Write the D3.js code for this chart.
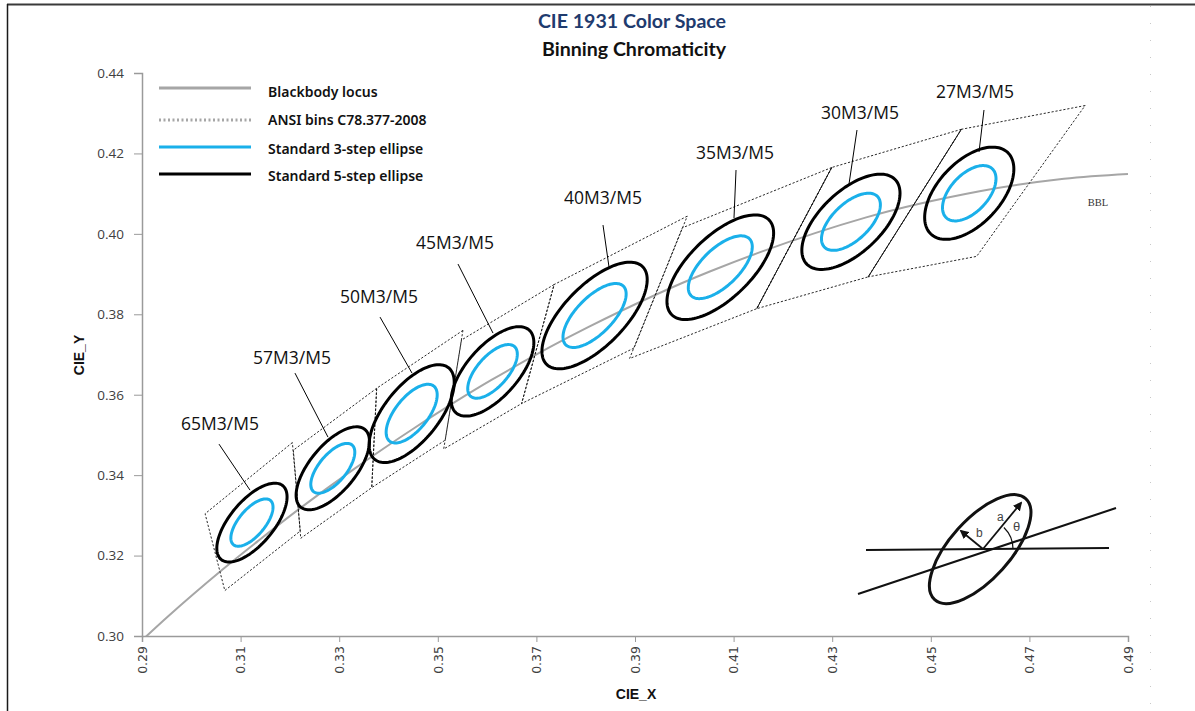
<!DOCTYPE html>
<html>
<head>
<meta charset="utf-8">
<script src="https://cdn.jsdelivr.net/npm/d3@7"></script>
<style>
  html, body { margin: 0; padding: 0; background: #fff; }
  svg { display: block; }
</style>
</head>
<body>
<svg id="chart" width="1195" height="711"></svg>
<script>
// ---------------- DATA ----------------
const xTicks = [0.29, 0.31, 0.33, 0.35, 0.37, 0.39, 0.41, 0.43, 0.45, 0.47, 0.49];
const yTicks = [0.30, 0.32, 0.34, 0.36, 0.38, 0.40, 0.42, 0.44];

// Blackbody (Planckian) locus points
const bblX = [0.2867, 0.2952, 0.3064, 0.3135, 0.3221, 0.3324, 0.3451, 0.3608, 0.3805, 0.4053, 0.4369, 0.4599, 0.4770, 0.4900];
const bblY = [0.2951, 0.3048, 0.3166, 0.3236, 0.3318, 0.3410, 0.3516, 0.3636, 0.3768, 0.3907, 0.4041, 0.4106, 0.4137, 0.4149];

// Bins (ANSI C78.377-2008)
const binNames = ["65M3/M5", "57M3/M5", "50M3/M5", "45M3/M5", "40M3/M5", "35M3/M5", "30M3/M5", "27M3/M5"];
const quadX = [
  [0.3205, 0.3028, 0.3068, 0.3221],
  [0.3376, 0.3207, 0.3222, 0.3366],
  [0.3551, 0.3376, 0.3366, 0.3515],
  [0.3736, 0.3548, 0.3512, 0.3670],
  [0.4006, 0.3736, 0.3670, 0.3898],
  [0.4299, 0.3996, 0.3889, 0.4147],
  [0.4562, 0.4299, 0.4147, 0.4373],
  [0.4813, 0.4562, 0.4373, 0.4593]
];
const quadY = [
  [0.3481, 0.3304, 0.3113, 0.3261],
  [0.3616, 0.3462, 0.3243, 0.3369],
  [0.3760, 0.3616, 0.3369, 0.3487],
  [0.3874, 0.3736, 0.3465, 0.3578],
  [0.4044, 0.3874, 0.3578, 0.3716],
  [0.4165, 0.4015, 0.3690, 0.3814],
  [0.4260, 0.4165, 0.3814, 0.3893],
  [0.4319, 0.4260, 0.3893, 0.3944]
];
// shared edges drawn solid (3500/3000 and 3000/2700)
const solidEdgeX = [[0.4299, 0.4147], [0.4562, 0.4373]];
const solidEdgeY = [[0.4165, 0.3814], [0.4260, 0.3893]];

// Ellipse parameters (1-step): centre, semi-axes, angle (deg)
const ellX = [0.3123, 0.3287, 0.3447, 0.3611, 0.3818, 0.4073, 0.4338, 0.4578];
const ellY = [0.3282, 0.3417, 0.3553, 0.3658, 0.3797, 0.3917, 0.4030, 0.4101];
const ellA = [0.00223, 0.00234, 0.00274, 0.00255, 0.00313, 0.00309, 0.00278, 0.00258];
const ellB = [0.00095, 0.00100, 0.00118, 0.00112, 0.00134, 0.00138, 0.00136, 0.00137];
const ellT = [58.23, 58.6, 59.37, 57.0, 54.00, 52.93, 53.13, 57.28];
const steps = [3, 5];

// Label positions and leader lines (data coordinates)
const labelX = [0.30582, 0.32043, 0.33807, 0.35349, 0.38351, 0.41028, 0.43564, 0.45897];
const labelY = [0.35269, 0.36910, 0.38428, 0.39771, 0.40891, 0.42010, 0.43005, 0.43527];
const leadX0 = [0.30562, 0.32103, 0.33828, 0.35410, 0.38351, 0.41049, 0.43503, 0.46079];
const leadY0 = [0.34771, 0.36537, 0.37930, 0.39249, 0.40219, 0.41587, 0.42582, 0.43080];
const leadX1 = [0.31191, 0.32773, 0.34477, 0.36120, 0.38473, 0.41008, 0.43341, 0.45978];
const leadY1 = [0.33627, 0.34945, 0.36537, 0.37532, 0.39174, 0.40393, 0.41239, 0.42035];

const legendLabels = ["Blackbody locus", "ANSI bins C78.377-2008", "Standard 3-step ellipse", "Standard 5-step ellipse"];

// ---------------- LAYOUT ----------------
const svg = d3.select("#chart");
const W = 1195, H = 711;
const M = { left: 142, right: 1128, top: 73, bottom: 636 };
const x = d3.scaleLinear().domain([0.29, 0.49]).range([M.left, M.right]);
const y = d3.scaleLinear().domain([0.30, 0.44]).range([M.bottom, M.top]);

// frame
svg.append("line").attr("x1", 7).attr("x2", W).attr("y1", 4.5).attr("y2", 4.5)
  .attr("stroke", "#3a3a3a").attr("stroke-width", 2);
svg.append("line").attr("x1", 7.5).attr("x2", 7.5).attr("y1", 4).attr("y2", H)
  .attr("stroke", "#1a1a1a").attr("stroke-width", 1.5);
svg.append("line").attr("x1", 1150.5).attr("x2", 1150.5).attr("y1", 6).attr("y2", H)
  .attr("stroke", "#c8c8c8").attr("stroke-width", 1).attr("stroke-dasharray", "1,16");

// titles
svg.append("text").attr("x", 632).attr("y", 28).attr("text-anchor", "middle")
  .attr("font-family", "Lato, 'Open Sans', sans-serif").attr("font-weight", "bold")
  .attr("font-size", 19.6).attr("fill", "#1f3b6e").text("CIE 1931 Color Space");
svg.append("text").attr("x", 634).attr("y", 56).attr("text-anchor", "middle")
  .attr("font-family", "Lato, 'Open Sans', sans-serif").attr("font-weight", "bold")
  .attr("font-size", 19.6).attr("fill", "#111").text("Binning Chromaticity");

// clip
svg.append("clipPath").attr("id", "plotclip").append("rect")
  .attr("x", M.left).attr("y", M.top).attr("width", M.right - M.left).attr("height", M.bottom - M.top);

// axes
const axisColor = "#9a9a9a";
const gx = svg.append("g").attr("transform", `translate(0,${M.bottom})`)
  .call(d3.axisBottom(x).tickValues(xTicks).tickSize(6).tickFormat(d3.format(".2f")));
gx.select(".domain").attr("stroke", axisColor).attr("stroke-width", 1.5);
gx.selectAll(".tick line").attr("stroke", axisColor);
gx.selectAll(".tick text")
  .attr("transform", "rotate(-90)")
  .attr("text-anchor", "end")
  .attr("x", -10).attr("y", 0).attr("dy", "0.35em")
  .attr("font-family", "'DejaVu Sans', Verdana, sans-serif")
  .attr("font-size", 12.5).attr("fill", "#404040");

const gy = svg.append("g").attr("transform", `translate(${M.left},0)`)
  .call(d3.axisLeft(y).tickValues(yTicks).tickSize(8).tickFormat(d3.format(".2f")));
gy.select(".domain").attr("stroke", axisColor).attr("stroke-width", 1.5);
gy.selectAll(".tick line").attr("stroke", axisColor);
gy.selectAll(".tick text")
  .attr("x", -18)
  .attr("font-family", "'Open Sans', 'Noto Sans', sans-serif")
  .attr("font-size", 13.5).attr("fill", "#404040");

// axis titles
svg.append("text").attr("x", 636).attr("y", 699).attr("text-anchor", "middle")
  .attr("font-family", "'Liberation Sans Narrow', 'Liberation Sans', Arial, sans-serif")
  .attr("font-weight", "bold").attr("font-size", 14).attr("fill", "#111").text("CIE_X");
svg.append("text").attr("transform", "translate(84,355) rotate(-90)").attr("text-anchor", "middle")
  .attr("font-family", "'Liberation Sans Narrow', 'Liberation Sans', Arial, sans-serif")
  .attr("font-weight", "bold").attr("font-size", 14).attr("fill", "#111").text("CIE_Y");

const plot = svg.append("g").attr("clip-path", "url(#plotclip)");

// blackbody locus
const bbl = bblX.map((v, i) => [v, bblY[i]]);
plot.append("path")
  .attr("d", d3.line().x(d => x(d[0])).y(d => y(d[1])).curve(d3.curveCatmullRom)(bbl))
  .attr("fill", "none").attr("stroke", "#a6a6a6").attr("stroke-width", 2);

svg.append("text").attr("x", 1098).attr("y", 206).attr("text-anchor", "middle")
  .attr("font-family", "'Liberation Serif', 'DejaVu Serif', serif")
  .attr("font-size", 10.5).attr("fill", "#333").text("BBL");

// ANSI quadrangles
const quadG = svg.append("g");
quadX.forEach((qx, i) => {
  const pts = qx.map((v, j) => [x(v), y(quadY[i][j])]);
  quadG.append("path")
    .attr("d", d3.line().curve(d3.curveLinearClosed)(pts))
    .attr("fill", "none").attr("stroke", "#111").attr("stroke-width", 0.9)
    .attr("stroke-dasharray", "2.2,1.8");
});
solidEdgeX.forEach((ex, i) => {
  quadG.append("line")
    .attr("x1", x(ex[0])).attr("y1", y(solidEdgeY[i][0]))
    .attr("x2", x(ex[1])).attr("y2", y(solidEdgeY[i][1]))
    .attr("stroke", "#111").attr("stroke-width", 0.9);
});

// ellipses
function ellipsePts(cx, cy, a, b, tDeg) {
  const t = tDeg * Math.PI / 180;
  return d3.range(0, 120).map(k => {
    const u = k / 120 * 2 * Math.PI;
    return [
      x(cx + a * Math.cos(t) * Math.cos(u) - b * Math.sin(t) * Math.sin(u)),
      y(cy + a * Math.sin(t) * Math.cos(u) + b * Math.cos(t) * Math.sin(u))
    ];
  });
}
const ellG = svg.append("g");
ellX.forEach((cx, i) => {
  ellG.append("path")
    .attr("d", d3.line().curve(d3.curveLinearClosed)(ellipsePts(cx, ellY[i], ellA[i] * steps[1], ellB[i] * steps[1], ellT[i])))
    .attr("fill", "none").attr("stroke", "#000").attr("stroke-width", 3);
  ellG.append("path")
    .attr("d", d3.line().curve(d3.curveLinearClosed)(ellipsePts(cx, ellY[i], ellA[i] * steps[0], ellB[i] * steps[0], ellT[i])))
    .attr("fill", "none").attr("stroke", "#1ab0ea").attr("stroke-width", 3);
});

// labels & leaders
binNames.forEach((name, i) => {
  svg.append("line")
    .attr("x1", x(leadX0[i])).attr("y1", y(leadY0[i]))
    .attr("x2", x(leadX1[i])).attr("y2", y(leadY1[i]))
    .attr("stroke", "#000").attr("stroke-width", 1);
  svg.append("text").attr("x", x(labelX[i])).attr("y", y(labelY[i]))
    .attr("text-anchor", "middle").attr("dy", "0.36em")
    .attr("font-family", "'Open Sans', 'Noto Sans', sans-serif")
    .attr("font-size", 17.5).attr("fill", "#111").text(name);
});

// legend
const legLineY = [88, 120, 147, 174];
const legTextY = [92, 120, 149, 176];
const legStyles = [
  { stroke: "#a6a6a6", dash: null },
  { stroke: "#a6a6a6", dash: "2,2.5" },
  { stroke: "#1ab0ea", dash: null },
  { stroke: "#000", dash: null }
];
legendLabels.forEach((lab, i) => {
  svg.append("line").attr("x1", 159).attr("x2", 251).attr("y1", legLineY[i]).attr("y2", legLineY[i])
    .attr("stroke", legStyles[i].stroke).attr("stroke-width", 3)
    .attr("stroke-dasharray", legStyles[i].dash);
  svg.append("text").attr("x", 268).attr("y", legTextY[i]).attr("dy", "0.35em")
    .attr("font-family", "'Noto Sans', sans-serif")
    .attr("font-weight", 600).attr("font-size", 14).attr("fill", "#111").text(lab);
});

// inset diagram (local coordinates)
const inset = svg.append("g").attr("transform", "translate(983,549)");
inset.append("line").attr("x1", -117).attr("y1", 1).attr("x2", 126).attr("y2", -1)
  .attr("stroke", "#111").attr("stroke-width", 2);
inset.append("line").attr("x1", -125).attr("y1", 45).attr("x2", 133).attr("y2", -41)
  .attr("stroke", "#111").attr("stroke-width", 2);
inset.append("ellipse").attr("cx", -2).attr("cy", -2).attr("rx", 68).attr("ry", 30)
  .attr("transform", "rotate(-48)")
  .attr("fill", "none").attr("stroke", "#111").attr("stroke-width", 3);
const defs = svg.append("defs");
defs.append("marker").attr("id", "arrow").attr("viewBox", "0 0 10 10")
  .attr("refX", 8).attr("refY", 5).attr("markerWidth", 5).attr("markerHeight", 5)
  .attr("orient", "auto").append("path").attr("d", "M0,0 L10,5 L0,10 Z").attr("fill", "#111");
inset.append("line").attr("x1", 0).attr("y1", 0).attr("x2", 38).attr("y2", -46)
  .attr("stroke", "#111").attr("stroke-width", 1.8).attr("marker-end", "url(#arrow)");
inset.append("line").attr("x1", 0).attr("y1", 0).attr("x2", -22).attr("y2", -18)
  .attr("stroke", "#111").attr("stroke-width", 1.8).attr("marker-end", "url(#arrow)");
inset.append("path").attr("d", d3.arc()({ innerRadius: 30, outerRadius: 30, startAngle: Math.PI / 2 - 0.8, endAngle: Math.PI / 2 }))
  .attr("fill", "none").attr("stroke", "#111").attr("stroke-width", 1.2);
inset.append("text").attr("x", 14).attr("y", -28).attr("font-family", "'Liberation Sans', Arial, sans-serif")
  .attr("font-size", 12).attr("fill", "#444").text("a");
inset.append("text").attr("x", -7).attr("y", -12).attr("font-family", "'Liberation Sans', Arial, sans-serif")
  .attr("font-size", 12).attr("fill", "#444").text("b");
inset.append("text").attr("x", 30).attr("y", -18).attr("font-family", "'Liberation Sans', Arial, sans-serif")
  .attr("font-size", 13).attr("fill", "#444").text("θ");
</script>
</body>
</html>
